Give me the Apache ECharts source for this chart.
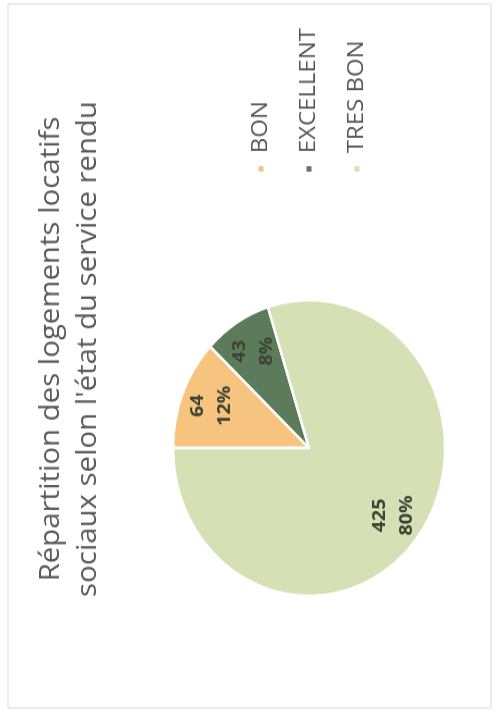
<!DOCTYPE html>
<html>
<head>
<meta charset="utf-8">
<script src="https://cdn.jsdelivr.net/npm/echarts@6/dist/echarts.min.js"></script>
<style>
  html, body { margin: 0; padding: 0; background: #fff; overflow: hidden; }
  /* the reference is a rotated scan: draw the chart upright, then turn it */
  #chart {
    position: absolute;
    left: 0;
    top: 0;
    width: 662px;
    height: 496px;
    transform-origin: 0 0;
    transform: translate(0px, 720px) rotate(-90deg) scaleX(1.088);
  }
</style>
</head>
<body>
<div id="chart"></div>
<script>
const titleLines = ['Répartition des logements locatifs', 'sociaux selon l\'état du service rendu']
const categories = ['BON', 'EXCELLENT', 'TRES BON']
const counts = [64, 43, 425]

const palette = ['#F7C47F', '#5C7B5B', '#D5E0B5']
const font = '"Open Sans", "DejaVu Sans", sans-serif'

const chart = echarts.init(document.getElementById('chart'), null, { renderer: 'canvas' })

const pieData = categories.map((name, i) => ({ name: name, value: counts[i] }))

// one title per line, each centred on the same x
const titles = titleLines.map((line, i) => ({
  text: line,
  left: 341,
  textAlign: 'center',
  top: 38 + i * 37,
  padding: 0,
  textStyle: {
    fontFamily: font,
    fontSize: 27,
    fontWeight: 'normal',
    color: '#595959'
  }
}))

chart.setOption({
  animation: false,
  backgroundColor: '#ffffff',
  color: palette,
  graphic: [{
    type: 'rect',
    shape: { x: 11, y: 8, width: 647, height: 483 },
    style: { fill: 'none', stroke: '#d9d9d9', lineWidth: 1 },
    silent: true
  }],
  title: titles,
  legend: {
    data: categories,
    orient: 'vertical',
    left: 502,
    top: 250,
    padding: 0,
    icon: 'rect',
    itemWidth: 7,
    itemHeight: 7,
    itemGap: 26,
    selectedMode: false,
    textStyle: {
      fontFamily: font,
      fontSize: 22,
      color: '#555555',
      padding: [0, 0, 0, 6]
    }
  },
  series: [
    {
      name: 'slices',
      type: 'pie',
      center: [250, 309],
      radius: [0, 136],
      startAngle: 90,
      clockwise: true,
      silent: true,
      label: { show: false },
      labelLine: { show: false },
      itemStyle: { borderColor: '#ffffff', borderWidth: 2.5 },
      data: pieData
    },
    {
      // same data again, only to put the labels three quarters out
      name: 'labels',
      type: 'pie',
      center: [250, 309],
      radius: [68, 136],
      startAngle: 90,
      clockwise: true,
      silent: true,
      percentPrecision: 0,
      itemStyle: { color: 'rgba(0,0,0,0)' },
      label: {
        show: true,
        position: 'inside',
        formatter: '{c}\n{d}%',
        fontFamily: font,
        fontSize: 18,
        fontWeight: 'bold',
        lineHeight: 27,
        color: '#3d4232'
      },
      labelLine: { show: false },
      data: pieData
    }
  ]
})
</script>
</body>
</html>
